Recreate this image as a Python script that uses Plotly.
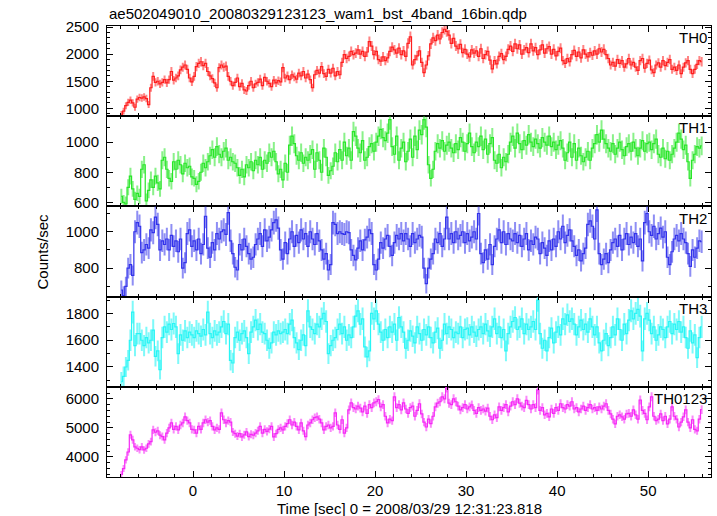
import numpy as np
import plotly.graph_objects as go
from plotly.subplots import make_subplots

TITLE = "ae502049010_20080329123123_wam1_bst_4band_16bin.qdp"
XLABEL = "Time [sec] 0 = 2008/03/29 12:31:23.818"
YLABEL = "Counts/sec"
BAND_NAMES = ["TH0", "TH1", "TH2", "TH3", "TH0123"]
BIN_WIDTH = 0.25
T_START = -8.0

# 4 bins per second, one line per second from t=-8 to t=55
th0 = [
    890, 950, 1050, 1110,  1150, 1100, 1020, 1170,  1200, 1190, 1210, 1180,
    1070, 1380, 1590, 1480,  1500, 1450, 1480, 1530,  1470, 1530, 1680, 1520,
    1560, 1600, 1710, 1760,  1800, 1720, 1560, 1490,  1590, 1770, 1830, 1860,
    1790, 1830, 1680, 1600,  1550, 1470, 1380, 1750,  1800, 1760, 1780, 1590,
    1500, 1420, 1480, 1560,  1400, 1460, 1340, 1320,  1420, 1500, 1380, 1450,
    1480, 1540, 1420, 1570,  1500, 1460, 1400, 1520,  1470, 1510, 1490, 1750,
    1560, 1600, 1530, 1620,  1580, 1540, 1650, 1600,  1680, 1560, 1630, 1530,
    1380, 1620, 1700, 1650,  1770, 1640, 1590, 1720,  1650, 1740, 1600, 1680,
    1620, 1850, 1990, 1920,  1960, 2050, 1990, 2020,  2080, 2000, 2050, 1960,
    2040, 2230, 2150, 1990,  2050, 1900, 1870, 1950,  1880, 1930, 2050, 2130,
    2080, 2020, 2110, 1990,  2060, 1960, 2200, 2320,  1800, 1900, 1970, 2060,
    1850, 1660, 1800, 1970,  2190, 2300, 2250, 2350,  2280, 2400, 2460, 2420,
    2350, 2200, 2290, 2150,  2100, 2180, 2030, 2090,  2000, 1950, 2080, 2020,
    2060, 1960, 2100, 1920,  1990, 2050, 1890, 1730,  1880, 1820, 1960, 2010,
    1900, 1960, 2090, 2150,  2050, 2190, 2100, 2170,  2000, 2080, 2120, 2030,
    2190, 2060, 2120, 1990,  2080, 2170, 2020, 2100,  2140, 2000, 2090, 1970,
    2050, 2110, 1880, 1830,  1920, 1860, 1990, 2070,  1960, 2040, 1930, 2080,
    2000, 1950, 2030, 1980,  2060, 2000, 2100, 2040,  2090, 1990, 1920, 1800,
    1850, 1780, 1900, 1830,  1880, 1760, 1820, 1920,  1800, 1850, 1760, 1700,
    1880, 1920, 1740, 1830,  1890, 1710, 1660, 1800,  1840, 1760, 1880, 1790,
    1850, 1900, 1720, 1760,  1700, 1800, 1640, 1760,  1840, 1880, 1720, 1640,
    1720, 1810, 1880, 1860,
]

th1 = [
    640, 600, 590, 700,  775, 690, 620, 660,  640, 820, 850, 610,
    680, 750, 700, 775,  730, 690, 880, 900,  820, 760, 740, 870,
    820, 880, 850, 790,  860, 830, 840, 770,  760, 720, 740, 800,
    860, 830, 870, 910,  950, 900, 970, 920,  900, 940, 960, 880,
    900, 870, 860, 830,  780, 820, 770, 850,  830, 870, 810, 880,
    850, 900, 820, 880,  860, 930, 900, 940,  870, 790, 820, 750,
    860, 800, 980, 1040,  990, 910, 880, 930,  860, 900, 880, 920,
    950, 820, 930, 880,  800, 960, 900, 780,  810, 840, 930, 870,
    950, 880, 1000, 910,  960, 880, 1070, 1040,  960, 930, 1010, 880,
    900, 970, 990, 940,  1000, 1040, 1085, 1030,  1010, 1060, 1150, 970,
    920, 1040, 880, 960,  1000, 870, 940, 1020,  900, 1040, 950, 1080,
    1050, 1150, 1100, 850,  760, 820, 940, 990,  960, 1010, 940, 980,
    1000, 960, 930, 990,  950, 1030, 1000, 940,  990, 1060, 970, 930,
    1000, 970, 1040, 950,  1020, 920, 990, 1030,  880, 860, 920, 830,
    900, 870, 920, 1000,  1040, 960, 1060, 990,  950, 1010, 980, 1050,
    1000, 970, 1020, 990,  960, 1030, 1000, 980,  1040, 970, 1000, 950,
    980, 1010, 960, 880,  930, 1000, 900, 990,  880, 960, 910, 870,
    900, 940, 880, 960,  990, 1050, 1000, 1080,  1020, 990, 960, 940,
    990, 920, 960, 1000,  950, 910, 970, 990,  940, 1000, 960, 910,
    960, 1010, 940, 990,  1000, 950, 990, 1020,  920, 900, 960, 890,
    940, 880, 920, 960,  1000, 1060, 1020, 950,  980, 870, 760, 880,
    920, 970, 960, 975,
]

th2 = [
    680, 650, 700, 800,  820, 760, 1000, 1050,  1030, 885, 900, 930,
    910, 1010, 995, 1080,  1040, 900, 950, 930,  960, 900, 980, 920,
    950, 890, 960, 800,  830, 990, 1010, 920,  950, 900, 960, 880,
    930, 1085, 910, 860,  940, 900, 990, 960,  1000, 1010, 985, 1105,
    950, 880, 805, 790,  930, 900, 960, 920,  880, 850, 860, 930,
    960, 990, 920, 1010,  950, 970, 1010, 1050,  1065, 1020, 900, 850,
    940, 880, 960, 1000,  920, 980, 940, 1010,  960, 990, 920, 1000,
    960, 930, 990, 950,  900, 850, 880, 790,  820, 1050, 1040, 990,
    1000, 990, 985, 1000,  995, 900, 870, 845,  910, 950, 900, 955,
    970, 1010, 990, 820,  790, 850, 940, 910,  960, 980, 920, 870,
    940, 980, 960, 990,  950, 990, 960, 920,  990, 940, 960, 980,
    970, 800, 715, 800,  850, 880, 960, 940,  990, 920, 960, 1080,
    960, 990, 940, 1000,  960, 980, 1000, 940,  990, 950, 970, 1000,
    960, 1100, 880, 830,  900, 850, 930, 820,  920, 960, 1010, 940,
    1000, 930, 990, 960,  950, 990, 940, 980,  920, 960, 990, 900,
    950, 930, 970, 960,  880, 940, 910, 870,  950, 900, 960, 920,
    1000, 960, 1030, 940,  980, 1010, 950, 920,  870, 900, 840, 880,
    910, 1040, 1060, 1030,  960, 1120, 880, 820,  850, 880, 830, 900,
    940, 960, 920, 980,  900, 960, 990, 930,  970, 940, 990, 920,
    960, 840, 1050, 1100,  1000, 980, 1030, 960,  990, 1020, 970, 1000,
    860, 820, 890, 960,  980, 950, 990, 960,  940, 880, 810, 900,
    860, 910, 950, 945,
]

th3 = [
    1290, 1330, 1400, 1450,  1600, 1810, 1560, 1650,  1650, 1600, 1560, 1620,
    1580, 1600, 1675, 1480,  1520, 1380, 1620, 1700,  1660, 1720, 1680, 1725,
    1700, 1500, 1640, 1600,  1670, 1620, 1660, 1640,  1620, 1670, 1650, 1630,
    1680, 1640, 1810, 1650,  1620, 1670, 1640, 1660,  1700, 1740, 1650, 1720,
    1450, 1430, 1620, 1660,  1600, 1650, 1670, 1620,  1500, 1660, 1700, 1750,
    1680, 1720, 1660, 1650,  1600, 1540, 1580, 1660,  1640, 1670, 1650, 1660,
    1680, 1650, 1720, 1750,  1620, 1580, 1530, 1600,  1640, 1560, 1820, 1700,
    1680, 1650, 1720, 1700,  1760, 1800, 1740, 1500,  1560, 1600, 1620, 1680,
    1720, 1650, 1700, 1600,  1640, 1620, 1700, 1780,  1820, 1720, 1760, 1550,
    1475, 1520, 1800, 1760,  1820, 1720, 1660, 1600,  1680, 1620, 1700, 1660,
    1720, 1600, 1770, 1700,  1660, 1540, 1600, 1670,  1630, 1580, 1700, 1650,
    1600, 1680, 1640, 1700,  1620, 1580, 1660, 1690,  1540, 1600, 1720, 1650,
    1700, 1680, 1620, 1660,  1650, 1700, 1620, 1680,  1690, 1640, 1700, 1660,
    1630, 1680, 1700, 1650,  1720, 1670, 1630, 1700,  1760, 1650, 1700, 1620,
    1680, 1520, 1650, 1700,  1740, 1770, 1680, 1700,  1760, 1650, 1720, 1680,
    1700, 1740, 1680, 1900,  1650, 1540, 1600, 1520,  1620, 1690, 1580, 1660,
    1700, 1640, 1760, 1720,  1790, 1740, 1760, 1720,  1640, 1700, 1750, 1680,
    1720, 1660, 1760, 1700,  1640, 1700, 1580, 1520,  1600, 1650, 1560, 1620,
    1700, 1640, 1760, 1680,  1600, 1720, 1650, 1750,  1820, 1760, 1800, 1830,
    1780, 1520, 1760, 1800,  1750, 1650, 1700, 1600,  1640, 1700, 1680, 1620,
    1700, 1740, 1650, 1720,  1680, 1740, 1660, 1700,  1620, 1540, 1670, 1580,
    1640, 1470, 1620, 1700,
]

th0123 = [
    3400, 3600, 3900, 4170,  4760, 4590, 4350, 4300,  4250, 4350, 4240, 4300,
    4450, 4530, 4930, 4850,  4900, 4750, 4700, 4590,  4820, 5000, 5170, 4950,
    5050, 4930, 5100, 5170,  5380, 5250, 5170, 4950,  4930, 4820, 5050, 4950,
    5170, 5280, 5200, 5250,  5050, 4930, 5000, 4950,  5520, 5280, 5170, 5250,
    5200, 4860, 4800, 4720,  4800, 4690, 4760, 4860,  4700, 4780, 4750, 4820,
    4900, 5050, 4820, 4950,  4880, 4960, 5050, 4690,  4800, 4950, 5000, 4930,
    5050, 5150, 5280, 5100,  5200, 5050, 4930, 5170,  4900, 4700, 5100, 5170,
    5280, 5350, 5380, 5300,  5170, 4930, 5050, 5100,  5000, 5050, 5520, 5100,
    4950, 5280, 4820, 5000,  5620, 5860, 5700, 5650,  5750, 5680, 5550, 5750,
    5500, 5800, 5700, 5860,  5900, 5970, 5720, 5800,  5400, 5170, 5300, 5250,
    6070, 5700, 5800, 5620,  5860, 5650, 5500, 5700,  5750, 5400, 5600, 5830,
    5480, 5200, 5030, 5300,  5150, 5400, 5720, 5850,  5900, 6070, 6000, 6380,
    5850, 5800, 6000, 5900,  5750, 5620, 5700, 5800,  5650, 5720, 5790, 5600,
    5500, 5700, 5600, 5650,  5580, 5680, 5400, 5280,  5450, 5350, 5720, 5600,
    5700, 5800, 5550, 5750,  5900, 5800, 6000, 5850,  5750, 5700, 5950, 5800,
    5650, 5800, 5700, 6310,  5600, 5700, 5450, 5500,  5380, 5650, 5500, 5700,
    5600, 5830, 5700, 5650,  5800, 5750, 5900, 5650,  5700, 5550, 5650, 5750,
    5600, 5700, 5800, 5650,  5700, 5600, 5720, 5650,  5750, 5830, 5600, 5480,
    5300, 5140, 5400, 5450,  5380, 5300, 5480, 5500,  5400, 5620, 5450, 5300,
    5960, 5600, 5500, 5280,  5720, 6070, 5400, 5250,  5300, 5480, 5250, 5400,
    5140, 5300, 5720, 5400,  5300, 5030, 5200, 5380,  5620, 5200, 5000, 5280,
    4950, 4900, 5300, 5630,
]

series = [th0, th1, th2, th3, th0123]
y_ranges = [[855, 2520], [573, 1173], [644, 1139], [1252, 1926], [3310, 6414]]
y_dticks = [500, 200, 200, 200, 1000]
y_minor = [100, 100, 100, 100, 200]
colors = ["rgb(255,30,30)", "rgb(40,230,40)", "rgb(50,50,235)",
          "rgb(40,245,245)", "rgb(245,40,245)"]
light = ["rgba(255,30,30,0.55)", "rgba(40,230,40,0.55)", "rgba(50,50,235,0.55)",
         "rgba(40,245,245,0.6)", "rgba(245,40,245,0.55)"]

FONT = "Liberation Sans, Arial, sans-serif"

fig = make_subplots(rows=5, cols=1, shared_xaxes=True, vertical_spacing=0)

for i, vals in enumerate(series):
    v = np.array(vals, dtype=float)
    t = T_START + BIN_WIDTH * (np.arange(len(v)) + 0.5)
    err = np.sqrt(v / BIN_WIDTH)
    # error bars (light)
    fig.add_trace(go.Scatter(
        x=t, y=v, mode="markers",
        marker=dict(size=1, color="rgba(0,0,0,0)"),
        error_y=dict(type="data", array=err, width=0, thickness=2,
                     color=light[i]),
        showlegend=False, hoverinfo="skip",
    ), row=i + 1, col=1)
    # step line (bin values)
    fig.add_trace(go.Scatter(
        x=t, y=v, mode="lines", line=dict(color=colors[i], width=1.2, shape="hvh"),
        showlegend=False, hoverinfo="skip",
    ), row=i + 1, col=1)

axis_common = dict(showline=True, linecolor="black", linewidth=1, mirror="allticks",
                   ticks="inside", tickcolor="black", showgrid=False, zeroline=False,
                   tickfont=dict(family=FONT, size=15, color="black"))

for i in range(5):
    fig.update_yaxes(range=y_ranges[i], tick0=0, dtick=y_dticks[i], ticklen=6,
                     minor=dict(ticks="inside", dtick=y_minor[i], tick0=0, ticklen=3,
                                tickcolor="black", showgrid=False),
                     ticklabelstandoff=4,
                     **axis_common, row=i + 1, col=1)
    fig.update_xaxes(range=[-9.45, 56.9], tick0=0, dtick=10, ticklen=6,
                     minor=dict(ticks="inside", dtick=2, tick0=0, ticklen=3,
                                tickcolor="black", showgrid=False),
                     showticklabels=(i == 4),
                     **axis_common, row=i + 1, col=1)
    fig.add_annotation(text=BAND_NAMES[i], xref="x domain" if i == 0 else f"x{i+1} domain",
                       yref="y domain" if i == 0 else f"y{i+1} domain",
                       x=0.997, y=0.87, xanchor="right", yanchor="middle",
                       showarrow=False, font=dict(family=FONT, size=15, color="black"))

fig.add_annotation(text=TITLE, xref="paper", yref="paper", x=0, y=1, xanchor="left",
                   yanchor="middle", yshift=13, showarrow=False,
                   font=dict(family=FONT, size=15, color="black"))
fig.add_annotation(text=XLABEL, xref="paper", yref="paper", x=0.5, y=0, xanchor="center",
                   yanchor="middle", yshift=-31, showarrow=False,
                   font=dict(family=FONT, size=15, color="black"))
fig.add_annotation(text=YLABEL, xref="paper", yref="paper", x=0, y=0.5, xanchor="center",
                   yanchor="middle", xshift=-65, textangle=-90, showarrow=False,
                   font=dict(family=FONT, size=15, color="black"))

fig.update_layout(width=717, height=516, margin=dict(l=107, r=6, t=26, b=39),
                  plot_bgcolor="white", paper_bgcolor="white")

fig.write_html("out.html", config={"displayModeBar": False},
               post_script="document.body.style.margin='0';")
